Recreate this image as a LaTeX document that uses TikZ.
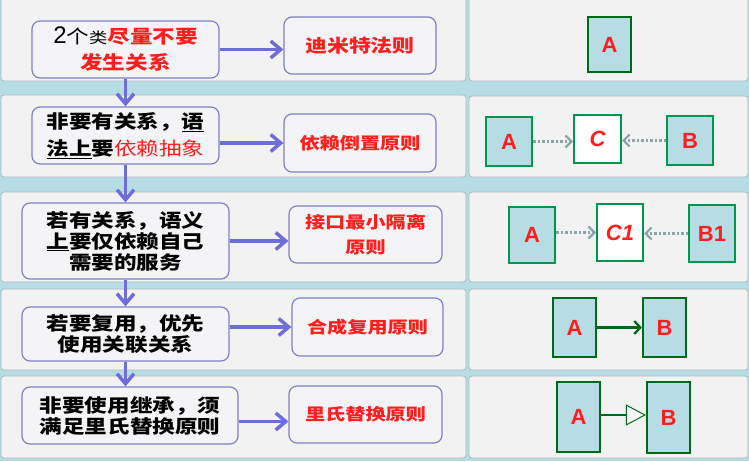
\documentclass[tikz,border=0pt]{standalone}
\usepackage{fontspec}
\usetikzlibrary{arrows.meta,calc}
\newfontfamily\cjk{Noto Sans CJK SC}[FakeStretch=1.22]
\newfontfamily\latinsans{Liberation Sans}
\definecolor{bgblue}{RGB}{183,221,228}
\definecolor{panelfill}{RGB}{242,242,242}
\definecolor{panelline}{RGB}{170,188,192}
\definecolor{boxline}{RGB}{128,128,200}
\definecolor{boxfill}{RGB}{244,244,246}
\definecolor{flowblue}{RGB}{110,110,215}
\definecolor{txtred}{RGB}{255,30,30}
\definecolor{dkgreen}{RGB}{0,105,25}
\definecolor{mdgreen}{RGB}{0,150,80}
\definecolor{dotgray}{RGB}{140,165,170}
\definecolor{clsblue}{RGB}{183,221,228}
\tikzset{
  panel/.style={draw=panelline, fill=panelfill, line width=0.8pt, rounded corners=3pt},
  lbox/.style={draw=boxline, fill=boxfill, line width=1.2pt, rounded corners=8pt, inner sep=2pt, align=center,
    font=\cjk\bfseries\fontsize{18.5}{21}\selectfont},
  rbox/.style={draw=boxline, fill=boxfill, line width=1.2pt, rounded corners=8pt, inner sep=2pt, align=center,
    text=txtred, font=\cjk\bfseries\fontsize{16.5}{25}\selectfont},
  flow/.style={draw=flowblue, line width=3.8pt, -{Straight Barb[length=10pt,width=17pt,line width=3.5pt]}},
  cls/.style={draw=dkgreen, line width=2.2pt, fill=clsblue, inner sep=0pt, text=txtred,
    font=\latinsans\bfseries\fontsize{22}{26}\selectfont},
  clsm/.style={cls, draw=mdgreen, line width=2pt},
  dep/.style={draw=dotgray, line width=2.8pt, dash pattern=on 2.5pt off 2pt, -{Straight Barb[length=6pt,width=12pt,line width=2.2pt]}},
  assoc/.style={draw=dkgreen, line width=2.4pt, -{Straight Barb[length=6pt,width=13pt]}},
  inherit/.style={draw=dkgreen, line width=2.8pt, -{Triangle[length=20pt,width=21pt,fill=white,line width=1pt]}}
}
\begin{document}
\begin{tikzpicture}[x=1pt,y=-1pt]
\useasboundingbox (0,0) rectangle (749,461);
\fill[bgblue] (0,0) rectangle (749,461);
% panels
\draw[panel] (1,-5) rectangle (466,81);
\draw[panel] (469,-5) rectangle (748,81);
\draw[panel] (1,95) rectangle (466,177);
\draw[panel] (469,96) rectangle (748,177);
\draw[panel] (1,192) rectangle (466,282);
\draw[panel] (469,192) rectangle (748,282);
\draw[panel] (1,289) rectangle (466,370);
\draw[panel] (469,289) rectangle (748,370);
\draw[panel] (1,376) rectangle (466,458);
\draw[panel] (469,376) rectangle (748,458);

% left boxes
\node[lbox, minimum width=187pt, minimum height=57pt, font=\cjk\bfseries\fontsize{18.5}{26}\selectfont] (L1) at (125.5,49.5)
  {{\latinsans\mdseries\fontsize{24}{26}\selectfont 2}{\mdseries 个}{\mdseries\fontsize{15}{26}\selectfont 类}\textcolor{txtred}{尽量不要}\\ \textcolor{txtred}{发生关系}};
\node[lbox, minimum width=187pt, minimum height=57pt, font=\cjk\bfseries\fontsize{18.5}{27}\selectfont] (L2) at (125.5,135.5)
  {非要有关系，\underline{语}\\ \underline{法上}要\textcolor{txtred}{\mdseries 依赖抽象}};
\node[lbox, minimum width=207pt, minimum height=76pt] (L3) at (125.5,241)
  {若有关系，语义\\ \underline{上}要仅依赖自己\\ 需要的服务};
\node[lbox, minimum width=207pt, minimum height=54pt] (L4) at (125.5,334)
  {若要复用，优先\\ 使用关联关系};
\node[lbox, minimum width=216pt, minimum height=57pt] (L5) at (130,415.5)
  {非要使用继承，须\\ 满足里氏替换原则};

% right boxes
\node[rbox, minimum width=152pt, minimum height=57pt, font=\cjk\bfseries\fontsize{18}{25}\selectfont] (R1) at (360,45.5) {迪米特法则};
\node[rbox, minimum width=152pt, minimum height=58pt] (R2) at (360,143) {依赖倒置原则};
\node[rbox, minimum width=153pt, minimum height=57pt] (R3) at (365.5,234.5) {接口最小隔离\\ 原则};
\node[rbox, minimum width=151pt, minimum height=58pt] (R4) at (367.5,327) {合成复用原则};
\node[rbox, minimum width=153pt, minimum height=57pt] (R5) at (365.5,414.5) {里氏替换原则};

% horizontal flow arrows
\draw[flow] (L1.east) -- (L1.east -| R1.west);
\draw[flow] (R2.west -| L2.east) -- (R2.west);
\draw[flow] (L3.east) -- (L3.east -| R3.west);
\draw[flow] (R4.west -| L4.east) -- (R4.west);
\draw[flow] ([yshift=-6pt]L5.east) -- ([yshift=-6pt]L5.east -| R5.west);
% vertical flow arrows
\draw[flow] (L1.south) -- (L2.north);
\draw[flow] (L2.south) -- (L3.north);
\draw[flow] (L3.south) -- (L4.north);
\draw[flow] (L4.south) -- (L4.south |- L5.north);

% right diagrams
\node[cls, minimum width=43pt, minimum height=55pt] (A1) at (609.5,44.5) {A};

\node[clsm, minimum width=46pt, minimum height=49pt] (A2) at (509,141.5) {A};
\node[clsm, fill=white, minimum width=47pt, minimum height=48pt] (C2) at (597.5,139) {\itshape C};
\node[clsm, minimum width=46pt, minimum height=49pt] (B2) at (690,140.5) {B};
\draw[dep] (A2.east) -- (A2.east -| C2.west);
\draw[dep] (B2.west) -- (B2.west -| C2.east);

\node[clsm, minimum width=46pt, minimum height=56pt] (A3) at (532,235) {A};
\node[clsm, fill=white, minimum width=46pt, minimum height=57pt] (C3) at (620,232.5) {\itshape C1};
\node[clsm, minimum width=46pt, minimum height=57pt] (B3) at (712,233.5) {B1};
\draw[dep] (C3.west -| A3.east) -- (C3.west);
\draw[dep] (B3.west) -- (B3.west -| C3.east);

\node[cls, minimum width=43pt, minimum height=59pt] (A4) at (574.5,327.5) {A};
\node[cls, minimum width=43pt, minimum height=59pt] (B4) at (664.5,327.5) {B};
\draw[assoc] (A4.east) -- (B4.west);

\node[cls, minimum width=43pt, minimum height=70pt] (A5) at (578.5,417) {A};
\node[cls, minimum width=43pt, minimum height=71pt] (B5) at (668.5,417.5) {B};
\draw[inherit] ([yshift=2pt]A5.east) -- ([yshift=2pt]A5.east -| B5.west);
\end{tikzpicture}
\end{document}
